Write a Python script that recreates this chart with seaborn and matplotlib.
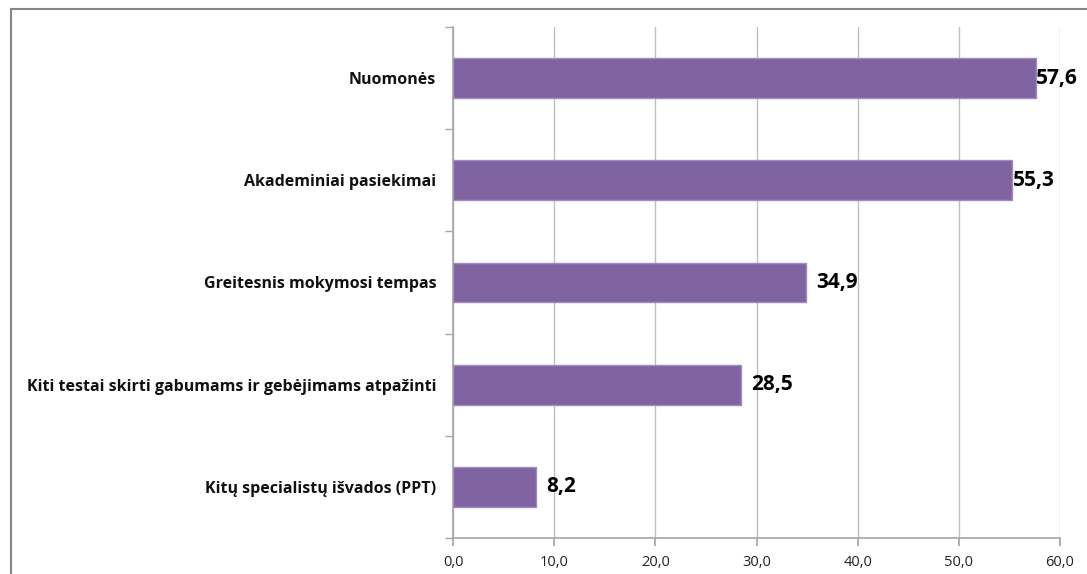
import matplotlib
matplotlib.use("Agg")
import matplotlib.pyplot as plt
import seaborn as sns
import pandas as pd
from matplotlib.patches import Rectangle
from matplotlib.ticker import FixedLocator

categories = [
    "Nuomonės",
    "Akademiniai pasiekimai",
    "Greitesnis mokymosi tempas",
    "Kiti testai skirti gabumams ir gebėjimams atpažinti",
    "Kitų specialistų išvados (PPT)",
]
values = [57.6, 55.3, 34.9, 28.5, 8.2]
x_ticks = [0, 10, 20, 30, 40, 50, 60]

df = pd.DataFrame({"category": categories, "value": values})

sns.set_theme(style="white")
plt.rcParams["font.family"] = ["Open Sans", "DejaVu Sans"]

fig = plt.figure(figsize=(10.87, 5.74), dpi=100)
ax = fig.add_axes([453 / 1087, 1 - 538 / 574, (1060 - 453) / 1087, (538 - 27) / 574])

sns.barplot(data=df, x="value", y="category", orient="h", color="#8064A2",
            saturation=1, width=0.39, ax=ax, order=categories, zorder=3,
            edgecolor="#A08CC0", linewidth=1)

ax.set_xlim(0, 60)
ax.set_ylim(len(categories) - 0.5, -0.5)
ax.set_xticks(x_ticks)
ax.set_xticklabels([f"{t:.1f}".replace(".", ",") for t in x_ticks],
                   fontsize=10.5, color="#222222")
ax.xaxis.grid(True, color="#BFBFBF", linewidth=1, zorder=0)
ax.set_axisbelow(True)
ax.set_xlabel("")
ax.set_ylabel("")

for lbl in ax.get_yticklabels():
    lbl.set_fontweight("bold")
    lbl.set_fontsize(11.5)
    lbl.set_color("#111111")

ax.tick_params(axis="y", which="major", length=0, pad=12)
ax.yaxis.set_minor_locator(FixedLocator([i + 0.5 for i in range(-1, len(categories))]))
ax.tick_params(axis="y", which="minor", length=6, color="#A6A6A6", direction="out", left=True)
ax.tick_params(axis="x", which="major", length=6, color="#A6A6A6", direction="out",
               bottom=True, pad=6)

for side in ["top", "right"]:
    ax.spines[side].set_visible(False)
for side in ["left", "bottom"]:
    ax.spines[side].set_color("#A6A6A6")
    ax.spines[side].set_linewidth(1.2)

for i, v in enumerate(values):
    pad = 0.0 if v > 50 else 1.0
    ax.text(v + pad, i, f"{v:.1f}".replace(".", ","), va="center", ha="left",
            fontsize=15, fontweight="bold", color="#000000", zorder=5)

fig.patches.append(Rectangle((11 / 1087, -0.05), 1.2, 1 - 9 / 574 + 0.05,
                             transform=fig.transFigure, fill=False,
                             edgecolor="#868686", linewidth=1.5))

fig.savefig("out.png", dpi=100)
